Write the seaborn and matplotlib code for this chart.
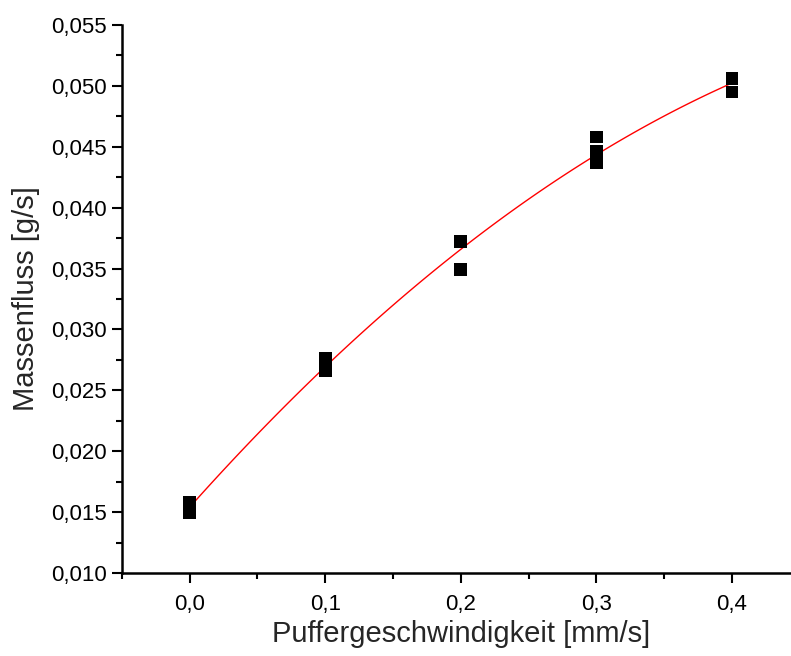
import numpy as np
import pandas as pd
import seaborn as sns
import matplotlib.pyplot as plt
from matplotlib.ticker import MultipleLocator, FuncFormatter

speed = [0.0, 0.0, 0.1, 0.1, 0.2, 0.2, 0.3, 0.3, 0.3, 0.4, 0.4]
mass_flow = [0.0158, 0.0150, 0.0276, 0.0266, 0.0372, 0.0349,
             0.0458, 0.0446, 0.0437, 0.0506, 0.0495]

x_ticks = [0.0, 0.1, 0.2, 0.3, 0.4]
y_ticks = [0.010, 0.015, 0.020, 0.025, 0.030, 0.035, 0.040, 0.045, 0.050, 0.055]

df = pd.DataFrame({"speed": speed, "mass_flow": mass_flow})

sns.set_style("ticks")
plt.rcParams["font.family"] = ["Liberation Sans", "DejaVu Sans"]

fig = plt.figure(figsize=(7.91, 6.56), dpi=100)
ax = fig.add_axes([0.154, 0.1265, 0.857, 0.8354])

# quadratic fit (red curve), then the measured points on top
sns.regplot(data=df, x="speed", y="mass_flow", order=2, ci=None, scatter=False,
            line_kws=dict(color="red", lw=1.0), ax=ax)
sns.scatterplot(data=df, x="speed", y="mass_flow", marker="s", s=85,
                color="black", edgecolor="none", ax=ax, zorder=3)

ax.set_xlim(-0.05, 0.45)
ax.set_ylim(0.010, 0.055)
ax.set_xticks(x_ticks)
ax.set_yticks(y_ticks)
ax.xaxis.set_minor_locator(MultipleLocator(0.05))
ax.yaxis.set_minor_locator(MultipleLocator(0.0025))

comma = lambda fmt: FuncFormatter(lambda v, _: fmt.format(v).replace(".", ","))
ax.xaxis.set_major_formatter(comma("{:.1f}"))
ax.yaxis.set_major_formatter(comma("{:.3f}"))

ax.set_xlabel("Puffergeschwindigkeit [mm/s]", fontsize=21, labelpad=4)
ax.set_ylabel("Massenfluss [g/s]", fontsize=21, labelpad=8)

for side in ["top", "right"]:
    ax.spines[side].set_visible(False)
for side in ["left", "bottom"]:
    ax.spines[side].set_linewidth(1.8)
    ax.spines[side].set_color("black")

ax.tick_params(which="major", direction="out", length=7, width=1.5,
               labelsize=16, colors="black")
ax.tick_params(which="minor", direction="out", length=4, width=1.5, colors="black")
ax.tick_params(axis="x", pad=8)

fig.savefig("out.png", dpi=100)
